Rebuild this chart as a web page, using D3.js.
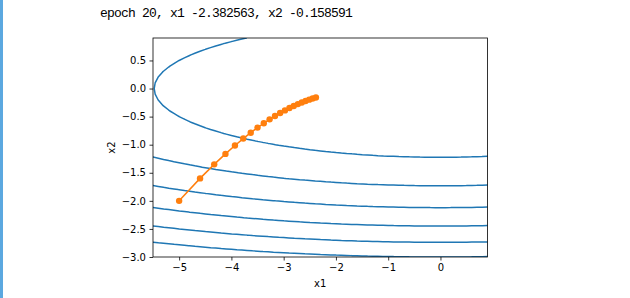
<!DOCTYPE html>
<html><head><meta charset="utf-8">
<script src="https://cdn.jsdelivr.net/npm/d3@7"></script>
<style>body{margin:0;background:#fff;}svg{display:block;}</style>
</head><body>
<script>
// ---- data ----
const titleText = "epoch 20, x1 -2.382563, x2 -0.158591";
const trajX1 = [-5.0, -4.6, -4.329, -4.114, -3.932, -3.773, -3.630, -3.500, -3.380, -3.269, -3.166,
                -3.068, -2.976, -2.889, -2.807, -2.728, -2.653, -2.581, -2.512, -2.446, -2.383];
const trajX2 = [-2.0, -1.6, -1.350, -1.164, -1.014, -0.891, -0.786, -0.696, -0.618, -0.549, -0.489,
                -0.436, -0.389, -0.347, -0.310, -0.277, -0.248, -0.222, -0.198, -0.177, -0.159];
const contourLevels = [3, 6, 9, 12, 15, 18];
const xTicks = [-5, -4, -3, -2, -1, 0];
const yTicks = [0.5, 0.0, -0.5, -1.0, -1.5, -2.0, -2.5, -3.0];
const gridX1 = d3.range(-5.5, 0.95, 0.1);
const gridX2 = d3.range(-3.0, 0.95, 0.1);
// objective surface f(x1, x2) = 0.1*x1^2 + 2*x2^2
const surface = (a, b) => 0.1 * a * a + 2 * b * b;

// ---- layout ----
const W = 630, H = 298;
const L = 153, R = 487.5, T = 38, B = 257;
const svg = d3.select("body").append("svg").attr("width", W).attr("height", H);
svg.append("rect").attr("x", 0).attr("y", 0).attr("width", 3).attr("height", H).attr("fill", "#5ba8e0");

const x = d3.scaleLinear().domain([-5.5, 0.9]).range([L, R]);
const y = d3.scaleLinear().domain([-3.0, 0.9]).range([B, T]);

svg.append("text").attr("x", 100).attr("y", 17)
  .attr("font-family", "Liberation Mono, DejaVu Sans Mono, monospace")
  .attr("font-size", "13px").attr("letter-spacing", "-0.8px").attr("fill", "#000").text(titleText);

svg.append("clipPath").attr("id", "clip").append("rect")
  .attr("x", L).attr("y", T).attr("width", R - L).attr("height", B - T);

// ---- contours via marching squares ----
const nx = gridX1.length, ny = gridX2.length;
const vals = gridX2.map(b => gridX1.map(a => surface(a, b)));
const cg = svg.append("g").attr("clip-path", "url(#clip)");
contourLevels.forEach(lv => {
  const segs = [];
  for (let j = 0; j < ny - 1; j++) {
    for (let i = 0; i < nx - 1; i++) {
      const c = [[i, j], [i + 1, j], [i + 1, j + 1], [i, j + 1]];
      const pts = [];
      for (let k = 0; k < 4; k++) {
        const p = c[k], q = c[(k + 1) % 4];
        const v0 = vals[p[1]][p[0]], v1 = vals[q[1]][q[0]];
        if ((v0 >= lv) !== (v1 >= lv)) {
          const t = Math.max(0, Math.min(1, (lv - v0) / (v1 - v0)));
          const a = gridX1[p[0]] + t * (gridX1[q[0]] - gridX1[p[0]]);
          const b = gridX2[p[1]] + t * (gridX2[q[1]] - gridX2[p[1]]);
          pts.push([a, b]);
        }
      }
      if (pts.length === 2) segs.push(pts);
      else if (pts.length === 4) { segs.push([pts[0], pts[1]]); segs.push([pts[2], pts[3]]); }
    }
  }
  const path = segs.map(s => `M${x(s[0][0])},${y(s[0][1])}L${x(s[1][0])},${y(s[1][1])}`).join("");
  cg.append("path").attr("d", path).attr("fill", "none").attr("stroke", "#1f77b4")
    .attr("stroke-width", 1.5).attr("stroke-linecap", "round");
});

// ---- trajectory ----
const pts = trajX1.map((v, i) => [v, trajX2[i]]);
const tg = svg.append("g").attr("clip-path", "url(#clip)");
tg.append("path").attr("d", d3.line().x(d => x(d[0])).y(d => y(d[1]))(pts))
  .attr("fill", "none").attr("stroke", "#ff7f0e").attr("stroke-width", 1.5);
tg.selectAll("circle").data(pts).enter().append("circle")
  .attr("cx", d => x(d[0])).attr("cy", d => y(d[1])).attr("r", 3.2).attr("fill", "#ff7f0e");

// ---- axes ----
const fmtY = d => d3.format(".1f")(d).replace("-", "\u2212");
const fmtX = d => String(d).replace("-", "\u2212");
const xa = svg.append("g").attr("transform", `translate(0,${B})`)
  .call(d3.axisBottom(x).tickValues(xTicks).tickFormat(fmtX).tickSize(3.5).tickPadding(3.5));
const ya = svg.append("g").attr("transform", `translate(${L},0)`)
  .call(d3.axisLeft(y).tickValues(yTicks).tickFormat(fmtY).tickSize(3.5).tickPadding(3.5));
[xa, ya].forEach(g => {
  g.select(".domain").remove();
  g.selectAll("line").attr("stroke", "#000").attr("stroke-width", 0.8);
  g.selectAll("text").attr("font-family", "DejaVu Sans").attr("font-size", "10px").attr("fill", "#000");
});
svg.append("rect").attr("x", L).attr("y", T).attr("width", R - L).attr("height", B - T)
  .attr("fill", "none").attr("stroke", "#000").attr("stroke-width", 0.8);

svg.append("text").attr("x", (L + R) / 2).attr("y", 287).attr("text-anchor", "middle")
  .attr("font-family", "DejaVu Sans").attr("font-size", "10px").text("x1");
svg.append("text").attr("transform", `translate(115,${(T + B) / 2}) rotate(-90)`).attr("text-anchor", "middle")
  .attr("font-family", "DejaVu Sans").attr("font-size", "10px").text("x2");
</script>
</body></html>
